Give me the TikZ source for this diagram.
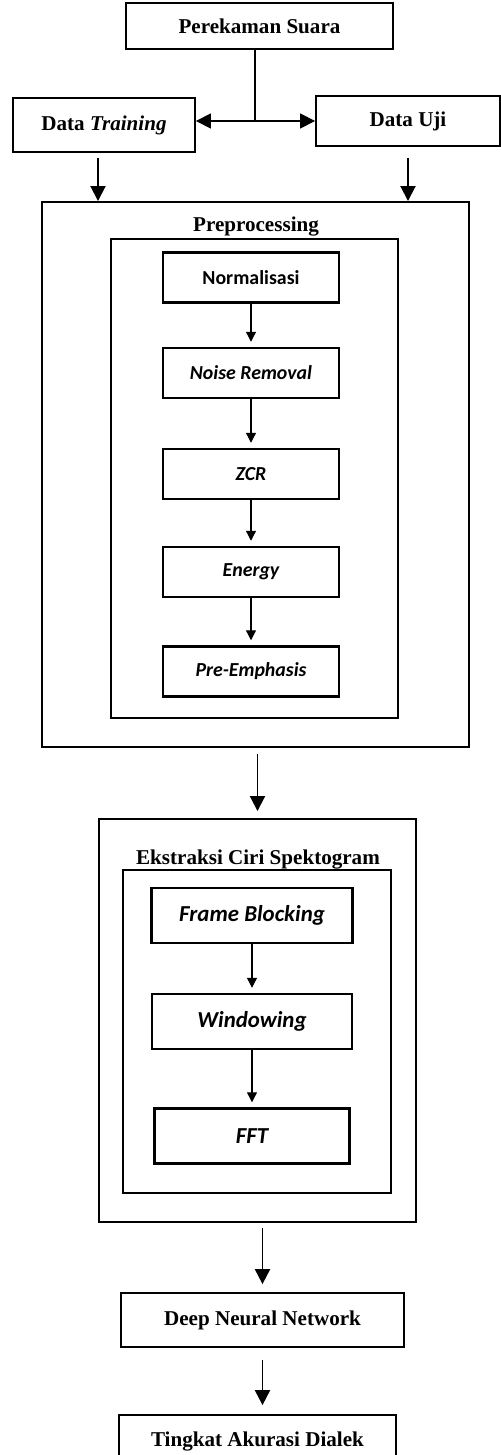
\documentclass[tikz,border=0pt]{standalone}
\usepackage{fontspec}
\setmainfont{Liberation Serif}
\newfontfamily\calibri{Carlito}
\usetikzlibrary{arrows.meta}

\begin{document}
\begin{tikzpicture}[->,>={Triangle[length=0.3cm,width=0.3cm]},line width=1.1pt,
  box/.style={draw,line width=1pt,inner sep=0pt,font=\bfseries\fontsize{12}{14}\selectfont},
  frame/.style={draw,line width=1.1pt,inner sep=0pt},
  title/.style={inner sep=0pt,font=\bfseries\fontsize{12}{14}\selectfont},
  prestep/.style={draw,line width=1.4pt,inner sep=0pt,minimum width=3.52cm,minimum height=1cm,
                  font=\calibri\bfseries\fontsize{11.3}{13}\selectfont},
  ekstep/.style={draw,line width=1.4pt,inner sep=0pt,minimum height=1.1cm,
                 font=\calibri\bfseries\fontsize{13}{15}\selectfont},
  substep/.style={line width=0.7pt,-{Triangle[length=0.2cm,width=0.2cm]},shorten >=0.1cm}]
\useasboundingbox (0,0) rectangle (10.02,-29.1);

\node[box,minimum width=5.34cm,minimum height=0.92cm] (rekam) at (5.19,-0.52)  {Perekaman Suara};
\node[box,minimum width=3.64cm,minimum height=1.08cm] (train) at (2.08,-2.5)   {Data \textit{Training}};
\node[box,minimum width=3.68cm,minimum height=1cm]    (uji)   at (8.16,-2.42)  {Data Uji};
\coordinate (split) at (5.1,-2.42);

\node[frame,minimum width=8.54cm,minimum height=10.9cm] (pre)      at (5.11,-9.49) {};
\node[frame,minimum width=5.74cm,minimum height=9.58cm] (preinner) at (5.09,-9.57) {};
\node[title]                                            (pretitle) at (5.12,-4.54) {Preprocessing};
\node[prestep] (norm)  at (5.02,-5.55)  {Normalisasi};
\node[prestep] (noise) at (5.02,-7.46)  {\itshape Noise Removal};
\node[prestep] (zcr)   at (5.02,-9.48)  {\itshape ZCR};
\node[prestep] (energ) at (5.02,-11.44) {\itshape Energy};
\node[prestep] (emph)  at (5.02,-13.43) {\itshape Pre-Emphasis};

\node[frame,minimum width=6.34cm,minimum height=8.06cm] (ek)      at (5.15,-20.41) {};
\node[frame,minimum width=5.36cm,minimum height=6.46cm] (ekinner) at (5.14,-20.63) {};
\node[title]                                            (ektitle) at (5.16,-17.2)  {Ekstraksi Ciri Spektogram};
\node[ekstep,minimum width=4.02cm] (frame) at (5.04,-18.31) {\itshape Frame Blocking};
\node[ekstep,minimum width=4cm]    (win)   at (5.04,-20.43) {\itshape Windowing};
\node[ekstep,minimum width=3.9cm]  (fft)   at (5.04,-22.72) {\itshape FFT};

\node[box,minimum width=5.66cm,minimum height=1.08cm] (dnn)     at (5.25,-26.4)  {Deep Neural Network};
\node[box,minimum width=5.54cm,minimum height=1.04cm] (tingkat) at (5.15,-28.82) {Tingkat Akurasi Dialek};

\path   (rekam.south -| split) edge[-,line width=0.6pt]             (split)
        (train.east |- split)  edge[<->,line width=0.6pt]           (uji.west |- split)
        ([xshift=-0.12cm]train.south) edge[shorten <=0.1cm]         ([xshift=-0.12cm]train.south |- pre.north)
        (uji.south)            edge[shorten <=0.22cm]               (uji.south |- pre.north)
        (ek |- pre.south)      edge[shorten <=0.12cm,shorten >=0.14cm] (ek.north)
        ([xshift=0.1cm]ek.south) edge[shorten <=0.1cm,shorten >=0.16cm] ([xshift=0.1cm]ek.south |- dnn.north)
        (dnn.south)            edge[shorten <=0.24cm,shorten >=0.18cm] (dnn.south |- tingkat.north);

\path   (norm)  edge[substep] (noise)
        (noise) edge[substep] (zcr)
        (zcr)   edge[substep] (energ)
        (energ) edge[substep] (emph)
        (frame) edge[substep] (win)
        (win)   edge[substep] (fft);
\end{tikzpicture}
\end{document}
